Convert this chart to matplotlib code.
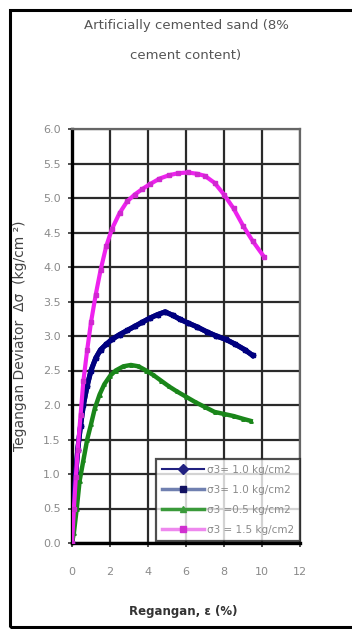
import matplotlib
matplotlib.use("Agg")
import matplotlib.pyplot as plt
from matplotlib.patches import Rectangle

# Data (strain %, deviator stress kg/cm2)
navy_x = [0, 0.05, 0.1, 0.2, 0.3, 0.45, 0.6, 0.8, 1.0, 1.25, 1.5, 1.8, 2.1, 2.5, 2.9,
          3.3, 3.7, 4.1, 4.5, 4.9, 5.3, 5.7, 6.1, 6.6, 7.1, 7.6, 8.1, 8.6, 9.1, 9.5]
navy_y = [0, 0.3, 0.6, 1.0, 1.35, 1.7, 2.0, 2.28, 2.5, 2.68, 2.8, 2.88, 2.95, 3.02, 3.08,
          3.14, 3.2, 3.26, 3.31, 3.35, 3.3, 3.24, 3.19, 3.13, 3.06, 3.0, 2.95, 2.88, 2.8, 2.72]
navy2_x = navy_x
navy2_y = navy_y
green_x = [0, 0.1, 0.25, 0.4, 0.6, 0.8, 1.0, 1.2, 1.45, 1.7, 2.0, 2.3, 2.7, 3.1, 3.5,
           3.9, 4.3, 4.7, 5.1, 5.5, 6.0, 6.5, 7.0, 7.5, 8.0, 8.5, 9.0, 9.4]
green_y = [0, 0.15, 0.5, 0.9, 1.2, 1.5, 1.72, 1.95, 2.15, 2.3, 2.42, 2.5, 2.56, 2.58, 2.56,
           2.5, 2.43, 2.35, 2.27, 2.2, 2.12, 2.04, 1.97, 1.9, 1.87, 1.84, 1.8, 1.77]
pink_x = [0, 0.1, 0.2, 0.3, 0.45, 0.6, 0.8, 1.0, 1.25, 1.5, 1.8, 2.1, 2.5, 2.9, 3.3,
          3.7, 4.1, 4.6, 5.1, 5.6, 6.1, 6.6, 7.0, 7.5, 8.0, 8.5, 9.0, 9.5, 10.1]
pink_y = [0, 0.5, 0.95, 1.35, 1.85, 2.35, 2.8, 3.2, 3.6, 3.95, 4.3, 4.55, 4.78, 4.95, 5.05,
          5.13, 5.2, 5.28, 5.33, 5.36, 5.37, 5.35, 5.32, 5.22, 5.05, 4.85, 4.6, 4.38, 4.15]

labels = ["σ3= 1.0 kg/cm2", "σ3= 1.0 kg/cm2", "σ3 =0.5 kg/cm2", "σ3 = 1.5 kg/cm2"]
x_ticks = [0, 2, 4, 6, 8, 10, 12]
y_ticks = [0.0, 0.5, 1.0, 1.5, 2.0, 2.5, 3.0, 3.5, 4.0, 4.5, 5.0, 5.5, 6.0]

W, H = 352, 629
fig = plt.figure(figsize=(W / 100, H / 100), dpi=100)
fig.patch.set_facecolor("white")

# outer frame
fig.add_artist(Rectangle((10 / W, 2.5 / H), 1.2, (H - 10 - 2.5) / H,
                         transform=fig.transFigure, fill=False, edgecolor="black",
                         linewidth=2.2, zorder=0))

ax = fig.add_axes([72 / W, (H - 543) / H, 228 / W, 414 / H])
ax.set_xlim(0, 12)
ax.set_ylim(0, 6)
ax.set_xticks(x_ticks)
ax.set_yticks(y_ticks)
ax.set_xticklabels([str(v) for v in x_ticks])
ax.set_yticklabels([f"{v:.1f}" for v in y_ticks])
ax.tick_params(axis="both", labelsize=8, colors="#333333", labelcolor="#8a8a8a",
               length=3, width=1.2)
ax.tick_params(axis="x", pad=14)
ax.tick_params(axis="y", pad=5)
ax.grid(True, color="#2a2a2a", linewidth=1.6)
ax.set_axisbelow(True)
for s in ["left", "bottom"]:
    ax.spines[s].set_linewidth(2.4)
    ax.spines[s].set_color("black")
for s in ["top", "right"]:
    ax.spines[s].set_linewidth(1.6)
    ax.spines[s].set_color("#666666")

ax.plot(navy_x, navy_y, color="#101070", lw=3.6, marker="D", ms=2.5, zorder=3, label=labels[0])
ax.plot(navy2_x, navy2_y, color="#000080", lw=3.6, marker="s", ms=2.5, zorder=3, label=labels[1])
ax.plot(green_x, green_y, color="#1a861a", lw=3.2, marker="^", ms=2.5, zorder=3, label=labels[2])
ax.plot(pink_x, pink_y, color="#ee22ee", lw=3.0, marker="s", ms=2.5, mfc="#d028d0",
        mec="#d028d0", zorder=4, label=labels[3])

leg_lines = [
    plt.Line2D([], [], color="#202080", lw=1.5, marker="D", ms=5),
    plt.Line2D([], [], color="#7080b0", lw=2.5, marker="s", ms=5, mfc="#101060", mec="#101060"),
    plt.Line2D([], [], color="#3a9a3a", lw=2.5, marker="^", ms=5),
    plt.Line2D([], [], color="#ee88ee", lw=2.5, marker="s", ms=5, mfc="#d030d0", mec="#d030d0"),
]
leg = ax.legend(leg_lines, labels, loc="lower right", bbox_to_anchor=(1.0, 0.005),
                fontsize=7.5, frameon=True, fancybox=False, edgecolor="#222222",
                handlelength=4.0, labelspacing=0.95, borderpad=0.6, handletextpad=0.3,
                borderaxespad=0.0)
leg.get_frame().set_linewidth(1.6)
for t in leg.get_texts():
    t.set_color("#8a8a8a")

fig.text(186 / W, 1 - 25 / H, "Artificially cemented sand (8%", ha="center", va="center",
         fontsize=9.5, color="#555555")
fig.text(186 / W, 1 - 55 / H, "cement content)", ha="center", va="center",
         fontsize=9.5, color="#555555")
fig.text(20 / W, 1 - 336 / H, "Tegangan Deviator  Δσ  (kg/cm ²)", rotation=90,
         ha="center", va="center", fontsize=10, color="#444444")
fig.text(183 / W, 1 - 612 / H, "Regangan, ε (%)", ha="center", va="center",
         fontsize=8.5, color="#333333", fontweight="bold")

fig.savefig("out.png", dpi=100, facecolor="white")
